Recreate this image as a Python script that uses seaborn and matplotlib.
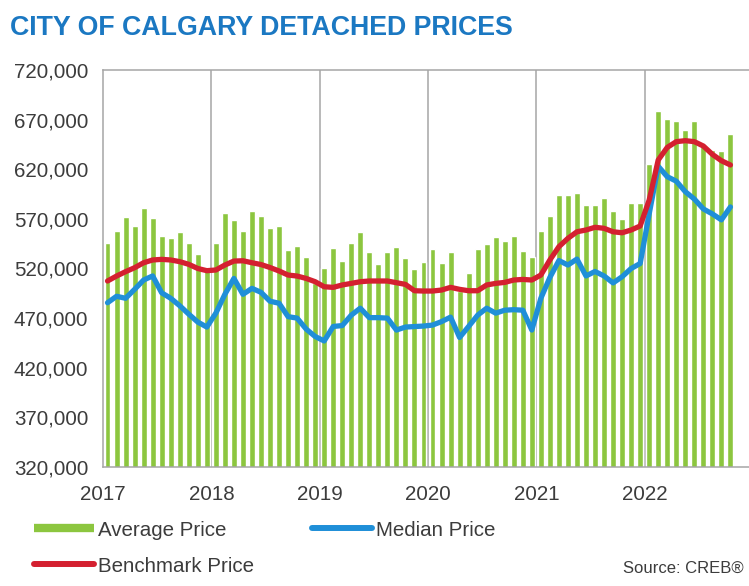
import numpy as np
import pandas as pd
import matplotlib
matplotlib.use("Agg")
import matplotlib.pyplot as plt
from matplotlib.lines import Line2D
from matplotlib.ticker import FuncFormatter
import seaborn as sns

# monthly values, Jan 2017 .. Oct 2022
average_price = [
    545400, 557800, 572200, 562800, 580600, 570600, 553000, 551000, 556400, 545400, 534300, 519000,
    545400, 575600, 568900, 558100, 577900, 573200, 560500, 563100, 538600, 542700, 531900, 505000,
    520800, 541000, 527900, 545400, 557100, 536300, 524100, 536300, 542000, 530900, 519900, 527000,
    539500, 525900, 536300, 497000, 515500, 539600, 544600, 551300, 547700, 552700, 537600, 531900,
    558100, 572900, 594000, 594000, 596000, 584000, 584000, 590700, 578300, 569900, 586300, 586300,
    625200, 678700, 670500, 669000, 659500, 669000, 643000, 639000, 638500, 655500,
]
median_price = [
    485500, 492000, 490000, 499000, 508400, 512500, 495500, 490000, 482500, 474000, 466000, 461000,
    475000, 494000, 510000, 494000, 500000, 496000, 487000, 485000, 471500, 470000, 459000, 451500,
    447000, 461600, 462500, 473000, 480000, 470500, 470500, 470000, 458000, 461000, 461500, 462000,
    463000, 466500, 471000, 450500, 461600, 473000, 480000, 475000, 478000, 478500, 478000, 458000,
    490000, 511000, 528000, 523500, 529500, 512500, 517000, 512500, 505500, 511700, 520000, 525000,
    575000, 623000, 612500, 608000, 597400, 590000, 580000, 575000, 569000, 582000,
]
benchmark_price = [
    507400, 512400, 516800, 520800, 525800, 528600, 529200, 528600, 526900, 524200, 520000, 517800,
    518500, 523500, 527500, 527800, 525800, 524000, 521000, 517500, 513400, 512400, 510000, 506700,
    501600, 501000, 503400, 505000, 506700, 507400, 507400, 507400, 505700, 504000, 497600, 497300,
    497300, 498300, 501000, 499000, 497600, 497600, 503400, 505000, 506000, 508400, 509000, 508400,
    513400, 528600, 542000, 550400, 557000, 558800, 561500, 560500, 557000, 556000, 558800, 562800,
    589000, 629300, 642000, 647800, 648800, 647800, 643400, 635000, 628600, 624300,
]
year_labels = ["2017", "2018", "2019", "2020", "2021", "2022"]
y_ticks = list(range(320000, 720001, 50000))

GREEN = "#8cc63f"
BLUE = "#1f8fd8"
RED = "#d42030"
TITLE_BLUE = "#1b78c2"
GREY = "#a6a6a6"
TEXT = "#3c3c3c"

sns.set_theme(style="white")
plt.rcParams["font.family"] = ["Liberation Sans", "DejaVu Sans"]

df = pd.DataFrame({
    "month": np.arange(len(average_price)),
    "average": average_price,
    "median": median_price,
    "benchmark": benchmark_price,
})

fig = plt.figure(figsize=(7.49, 5.86), dpi=100)
ax = fig.add_axes([103 / 749, 119 / 586, 650 / 749, 397 / 586])

sns.barplot(data=df, x="month", y="average", color=GREEN, width=0.66,
            saturation=1, ax=ax, zorder=2)
sns.lineplot(data=df, x="month", y="median", color=BLUE, linewidth=3.8,
             ax=ax, zorder=3)
sns.lineplot(data=df, x="month", y="benchmark", color=RED, linewidth=3.8,
             ax=ax, zorder=4)

ax.set_xlim(-0.5, 71.5)
ax.set_ylim(320000, 720000)
year_pos = [-0.5 + 12 * i for i in range(len(year_labels))]
ax.set_xticks(year_pos)
ax.set_xticklabels(year_labels)
ax.set_yticks(y_ticks)
ax.yaxis.set_major_formatter(FuncFormatter(lambda v, p: f"{int(v):,}"))
for xp in year_pos[1:]:
    ax.axvline(xp, color=GREY, linewidth=1.1, zorder=1)

ax.set_xlabel("")
ax.set_ylabel("")
ax.tick_params(axis="both", length=0, labelsize=14.8, labelcolor=TEXT)
ax.tick_params(axis="y", pad=10.5)
ax.tick_params(axis="x", pad=13)
for name, s in ax.spines.items():
    s.set_color(GREY)
    s.set_linewidth(1.1)
ax.spines["right"].set_visible(False)

fig.text(10 / 749, 1 - 28 / 586, "CITY OF CALGARY DETACHED PRICES",
         color=TITLE_BLUE, fontsize=19.3, fontweight="bold", va="center")

legend_kw = dict(frameon=False, fontsize=14.8, handlelength=2.9, handletextpad=0.2,
                 labelcolor=TEXT, borderaxespad=0, borderpad=0)
h_avg = Line2D([], [], color=GREEN, linewidth=6, solid_capstyle="butt")
h_med = Line2D([], [], color=BLUE, linewidth=4.3, solid_capstyle="round")
h_ben = Line2D([], [], color=RED, linewidth=4.3, solid_capstyle="round")
fig.legend(handles=[h_avg], labels=["Average Price"], loc="center left",
           bbox_to_anchor=(34 / 749, 1 - 530 / 586), **legend_kw)
fig.legend(handles=[h_med], labels=["Median Price"], loc="center left",
           bbox_to_anchor=(312 / 749, 1 - 530 / 586), **legend_kw)
fig.legend(handles=[h_ben], labels=["Benchmark Price"], loc="center left",
           bbox_to_anchor=(34 / 749, 1 - 566 / 586), **legend_kw)

fig.text(744 / 749, 1 - 568 / 586, "Source: CREB®", color=TEXT, fontsize=12,
         va="center", ha="right")

fig.savefig("out.png", dpi=100, facecolor="white")
